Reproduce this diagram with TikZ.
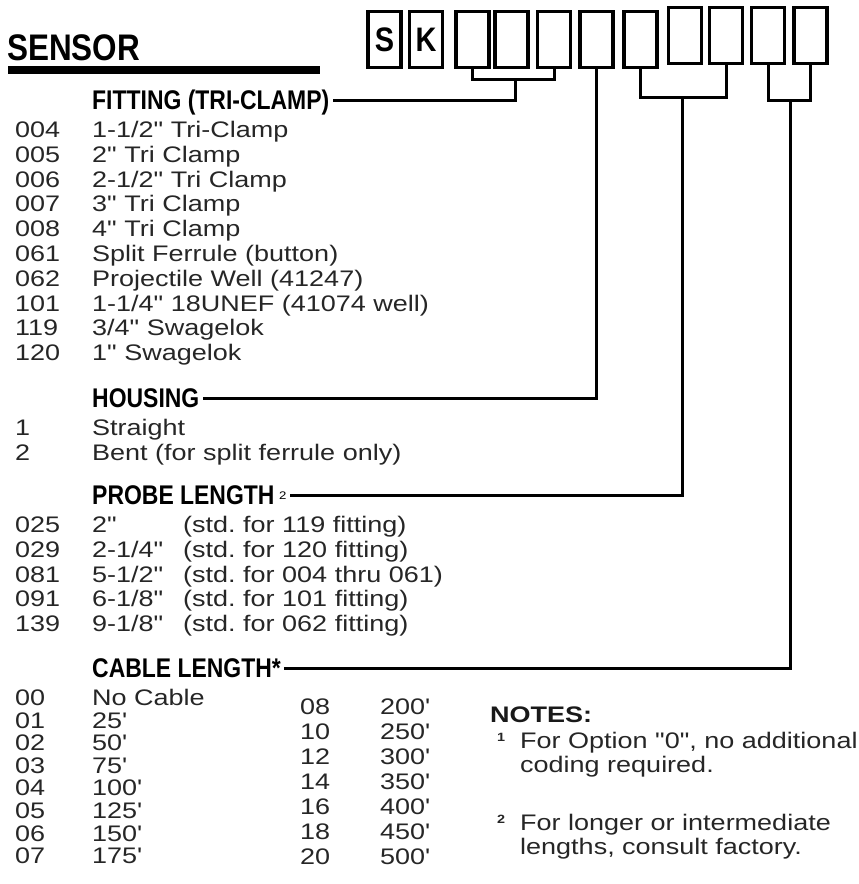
\documentclass[tikz,border=0pt]{standalone}
\usepackage{fontspec}
\setmainfont{Liberation Sans}
\newfontfamily\bodyfont[FakeStretch=1.2]{Liberation Sans}
\newfontfamily\headfont[FakeStretch=0.85]{Liberation Sans}
\newfontfamily\titlefont[FakeStretch=0.85]{Liberation Sans}
\usetikzlibrary{positioning}
\frenchspacing
\tikzset{
  digbox/.style={draw, line width=3.5pt, minimum width=33pt, minimum height=56pt,
                 inner sep=0pt, font=\titlefont\bfseries\fontsize{34}{34}\selectfont},
  hdr/.style={anchor=west, inner xsep=3pt, inner ysep=0pt, text height=19pt, text depth=0pt,
              font=\headfont\bfseries\fontsize{27}{28}\selectfont},
  row/.style={anchor=base west, inner sep=0pt, text=black!85,
              font=\bodyfont\fontsize{22.5}{24}\selectfont},
  supnum/.style={row, font=\bodyfont\bfseries\fontsize{12}{12}\selectfont},
  lead/.style={line width=3pt},
}

\begin{document}
\begin{tikzpicture}[x=1pt, y=-1pt]
  \useasboundingbox (0,0) rectangle (859,884);

  % title and part-number boxes
  \node[anchor=base west, inner sep=0pt, font=\titlefont\bfseries\fontsize{37}{38}\selectfont]
    (title) at (7,60) {SENSOR};
  \draw[line width=8pt] (8,70) -- (320,70);
  \foreach \n/\x/\y/\t in {1/384.5/39.5/S, 2/426/39.5/K, 3/472.5/39.5/{}, 4/511.5/39.5/{},
                           5/554/39.5/{}, 6/596.5/39.5/{}, 7/640.5/39.5/{}, 8/685/35.5/{},
                           9/726/35.5/{}, 10/768/35.5/{}, 11/810.5/35.5/{}}
    \node[digbox] (b\n) at (\x,\y) {\t};

  % fitting
  \node[hdr] (hfit) at (89,100) {FITTING (TRI-CLAMP)};
  \foreach \c/\d [count=\k from 0] in {004/{1-1/2" Tri-Clamp}, 005/{2" Tri Clamp},
      006/{2-1/2" Tri Clamp}, 007/{3" Tri Clamp}, 008/{4" Tri Clamp},
      061/{Split Ferrule (button)}, 062/{Projectile Well (41247)},
      101/{1-1/4" 18UNEF (41074 well)}, 119/{3/4" Swagelok}, 120/{1" Swagelok}}{
    \node[row] (fc\k) at (15,{137.5+24.8*\k}) {\c};
    \node[row] (fd\k) at (92,{137.5+24.8*\k}) {\d};
  }

  % housing
  \node[hdr] (hhou) at (89,398) {HOUSING};
  \foreach \c/\d [count=\k from 0] in {1/Straight, 2/{Bent (for split ferrule only)}}{
    \node[row] (hc\k) at (15,{435.5+24.8*\k}) {\c};
    \node[row] (hd\k) at (92,{435.5+24.8*\k}) {\d};
  }

  % probe length
  \node[hdr] (hprb) at (89,495) {PROBE LENGTH\,{\bodyfont\mdseries\fontsize{11}{11}\selectfont\raisebox{5pt}{2}}};
  \foreach \c/\l/\s [count=\k from 0] in {025/{2"}/{(std. for 119 fitting)},
      029/{2-1/4"}/{(std. for 120 fitting)}, 081/{5-1/2"}/{(std. for 004 thru 061)},
      091/{6-1/8"}/{(std. for 101 fitting)}, 139/{9-1/8"}/{(std. for 062 fitting)}}{
    \node[row] (pc\k) at (15,{532.5+24.8*\k}) {\c};
    \node[row] (pl\k) at (92,{532.5+24.8*\k}) {\l};
    \node[row] (ps\k) at (183,{532.5+24.8*\k}) {\s};
  }

  % cable length
  \node[hdr] (hcab) at (89,668) {CABLE LENGTH*};
  \foreach \c/\d [count=\k from 0] in {00/No Cable, 01/25', 02/50', 03/75',
      04/100', 05/125', 06/150', 07/175'}{
    \node[row] (cc\k) at (15,{705.5+22.6*\k}) {\c};
    \node[row] (cd\k) at (92,{705.5+22.6*\k}) {\d};
  }
  \foreach \c/\d [count=\k from 0] in {08/200', 10/250', 12/300', 14/350',
      16/400', 18/450', 20/500'}{
    \node[row] (rc\k) at (300,{714+25*\k}) {\c};
    \node[row] (rd\k) at (380,{714+25*\k}) {\d};
  }

  % notes
  \node[row, text=black!90, font=\bodyfont\bfseries\fontsize{22.5}{24}\selectfont] (notes) at (490,722) {NOTES:};
  \node[supnum] (n1) at (497,741) {1};
  \node[row] (n1a) at (520,748) {For Option "0", no additional};
  \node[row] (n1b) at (520,772) {coding required.};
  \node[supnum] (n2) at (497,823) {2};
  \node[row] (n2a) at (520,830) {For longer or intermediate};
  \node[row] (n2b) at (520,854) {lengths, consult factory.};

  % leads from boxes to headings
  \coordinate (fitj) at (515,79);
  \coordinate (prbj) at (682,97);
  \coordinate (cabj) at (790,100);
  \draw[lead] (b3.south) |- (fitj) -| (b5.south);
  \draw[lead] (fitj) |- (hfit.east);
  \draw[lead] (b6.south) |- (hhou.east);
  \draw[lead] (b7.south) |- (prbj) -| (b9.south);
  \draw[lead] (prbj) |- (hprb.east);
  \draw[lead] (b10.south) |- (cabj) -| (b11.south);
  \draw[lead] (cabj) |- (hcab.east);
\end{tikzpicture}
\end{document}
